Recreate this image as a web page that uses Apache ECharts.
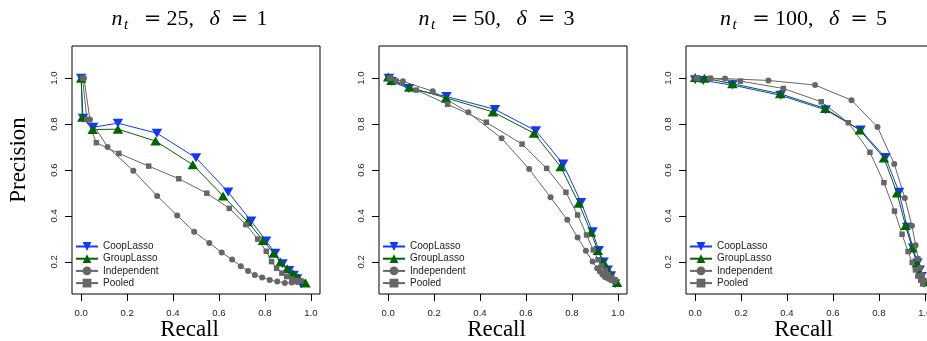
<!DOCTYPE html>
<html>
<head>
<meta charset="utf-8">
<script src="https://cdn.jsdelivr.net/npm/echarts@6/dist/echarts.min.js"></script>
<style>
  html, body { margin: 0; padding: 0; background: #fff; overflow: hidden; }
  #chart { width: 927px; height: 341px; }
</style>
</head>
<body>
<div id="chart"></div>
<script>
// Panel settings (n_t, delta)
const panelN = [25, 50, 100];
const panelDelta = [1, 3, 5];
const methods = ['CoopLasso', 'GroupLasso', 'Independent', 'Pooled'];
const xTicks = [0, 0.2, 0.4, 0.6, 0.8, 1.0];
const yTicks = [0.2, 0.4, 0.6, 0.8, 1.0];

// n_t = 25, delta = 1
const coop25R = [0.00, 0.008, 0.052, 0.16, 0.33, 0.50, 0.64, 0.74, 0.805, 0.845, 0.877, 0.905, 0.925, 0.94, 0.958];
const coop25P = [1.00, 0.825, 0.786, 0.804, 0.760, 0.653, 0.504, 0.378, 0.291, 0.238, 0.192, 0.162, 0.142, 0.126, 0.104];
const group25R = [0.00, 0.005, 0.05, 0.16, 0.324, 0.486, 0.618, 0.725, 0.792, 0.838, 0.868, 0.897, 0.922, 0.945, 0.977];
const group25P = [1.00, 0.83, 0.776, 0.778, 0.726, 0.623, 0.487, 0.375, 0.293, 0.238, 0.199, 0.17, 0.148, 0.131, 0.108];
const indep25R = [0.012, 0.038, 0.115, 0.227, 0.331, 0.418, 0.492, 0.558, 0.612, 0.657, 0.695, 0.727, 0.756, 0.788, 0.821, 0.854, 0.887, 0.917, 0.94];
const indep25P = [1.00, 0.82, 0.70, 0.597, 0.487, 0.402, 0.331, 0.282, 0.241, 0.21, 0.181, 0.16, 0.143, 0.132, 0.121, 0.114, 0.108, 0.11, 0.112];
const pool25R = [0.006, 0.025, 0.066, 0.164, 0.294, 0.425, 0.547, 0.645, 0.718, 0.769, 0.806, 0.829, 0.851, 0.874, 0.895, 0.917, 0.938, 0.957];
const pool25P = [1.00, 0.82, 0.719, 0.672, 0.617, 0.562, 0.499, 0.433, 0.362, 0.299, 0.246, 0.201, 0.172, 0.151, 0.136, 0.125, 0.119, 0.117];

// n_t = 50, delta = 3
const coop50R = [0.003, 0.016, 0.09, 0.254, 0.465, 0.643, 0.762, 0.84, 0.89, 0.917, 0.938, 0.956, 0.97, 0.988];
const coop50P = [1.00, 0.985, 0.955, 0.92, 0.864, 0.771, 0.626, 0.459, 0.331, 0.249, 0.199, 0.164, 0.139, 0.105];
const group50R = [0.0, 0.014, 0.092, 0.252, 0.456, 0.635, 0.751, 0.83, 0.883, 0.913, 0.936, 0.955, 0.972, 0.997];
const group50P = [1.005, 0.99, 0.96, 0.914, 0.853, 0.76, 0.614, 0.455, 0.329, 0.249, 0.201, 0.168, 0.139, 0.11];
const indep50R = [0.013, 0.064, 0.194, 0.349, 0.494, 0.614, 0.707, 0.78, 0.825, 0.861, 0.89, 0.91, 0.922, 0.933, 0.944, 0.957, 0.971, 0.986];
const indep50P = [1.00, 0.986, 0.943, 0.851, 0.738, 0.604, 0.481, 0.383, 0.306, 0.248, 0.201, 0.172, 0.158, 0.145, 0.134, 0.127, 0.12, 0.115];
const pool50R = [0.007, 0.035, 0.122, 0.259, 0.427, 0.583, 0.69, 0.774, 0.825, 0.864, 0.893, 0.914, 0.93, 0.945, 0.958, 0.974, 0.988];
const pool50P = [1.00, 0.987, 0.948, 0.886, 0.808, 0.713, 0.607, 0.503, 0.404, 0.317, 0.252, 0.209, 0.182, 0.162, 0.145, 0.132, 0.122];

// n_t = 100, delta = 5
const coop100R = [0.0, 0.035, 0.162, 0.372, 0.568, 0.72, 0.829, 0.888, 0.923, 0.949, 0.968, 0.978, 0.986, 0.996];
const coop100P = [0.993, 0.99, 0.97, 0.925, 0.862, 0.774, 0.654, 0.503, 0.351, 0.26, 0.195, 0.165, 0.136, 0.107];
const group100R = [0.0, 0.04, 0.162, 0.37, 0.566, 0.717, 0.822, 0.879, 0.916, 0.945, 0.965, 0.979, 1.0];
const group100P = [1.003, 1.0, 0.976, 0.932, 0.868, 0.774, 0.652, 0.5, 0.358, 0.26, 0.195, 0.153, 0.112];
const indep100R = [0.005, 0.067, 0.13, 0.319, 0.522, 0.681, 0.794, 0.867, 0.913, 0.944, 0.96, 0.971, 0.978, 0.988, 0.997];
const indep100P = [1.0, 0.999, 0.998, 0.99, 0.97, 0.904, 0.787, 0.626, 0.478, 0.357, 0.272, 0.213, 0.173, 0.143, 0.12];
const pool100R = [0.01, 0.065, 0.197, 0.384, 0.549, 0.667, 0.761, 0.822, 0.868, 0.901, 0.927, 0.945, 0.959, 0.97, 0.982, 0.991];
const pool100P = [1.0, 0.999, 0.987, 0.955, 0.897, 0.806, 0.677, 0.545, 0.421, 0.32, 0.245, 0.197, 0.165, 0.138, 0.12, 0.107];

const panelData = [
  [[coop25R, coop25P], [group25R, group25P], [indep25R, indep25P], [pool25R, pool25P]],
  [[coop50R, coop50P], [group50R, group50P], [indep50R, indep50P], [pool50R, pool50P]],
  [[coop100R, coop100P], [group100R, group100P], [indep100R, indep100P], [pool100R, pool100P]],
];

// Look of each method
const methodStyle = {
  CoopLasso:   { color: '#1238ff', symbol: 'path://M0,0 L10,0 L5,8.66 Z', size: [10.5, 9] },
  GroupLasso:  { color: '#006400', symbol: 'path://M5,0 L10,8.66 L0,8.66 Z', size: [10.5, 9] },
  Independent: { color: '#666666', symbol: 'circle', size: 6 },
  Pooled:      { color: '#666666', symbol: 'rect', size: 5.5 },
};

const gridLeft = [72, 379, 686];
const gridTop = 46;
const gridSize = 248;
const sans = 'Liberation Sans, Arial, sans-serif';
const serif = 'Liberation Serif, Times New Roman, serif';

// measure text to lay out the math-style titles
const ctx = document.createElement('canvas').getContext('2d');
function textWidth(str, font) {
  ctx.font = font;
  return ctx.measureText(str).width;
}

function titlePieces(cx, n, d) {
  const big = '22px ' + serif;
  const bigIt = 'italic 22px ' + serif;
  const eq = '21px DejaVu Serif, serif';
  const sub = 'italic 15px ' + serif;
  const numStr = n + ',';
  const numLeft = 55;
  const deltaLeft = numLeft + textWidth(numStr, big) + 15.5;
  const total = deltaLeft + 47 + textWidth(String(d), big);
  const x0 = cx - total / 2;
  const yMid = 19.5;
  const t = (text, x, font, align, y) => ({
    type: 'text', x: x, y: y,
    style: { text: text, font: font, fill: '#000', align: align, verticalAlign: 'middle' },
  });
  return [
    t('n', x0, bigIt, 'left', yMid),
    t('t', x0 + 12.5, sub, 'left', yMid + 5.5),
    t('=', x0 + 41, eq, 'center', yMid),
    t(numStr, x0 + numLeft, big, 'left', yMid),
    t('δ', x0 + deltaLeft, bigIt, 'left', yMid),
    t('=', x0 + deltaLeft + 30, eq, 'center', yMid),
    t(String(d), x0 + deltaLeft + 47, big, 'left', yMid),
  ];
}

const chart = echarts.init(document.getElementById('chart'));

const grids = [], xAxes = [], yAxes = [], legends = [], series = [], graphics = [];

gridLeft.forEach((left, i) => {
  grids.push({
    left: left, top: gridTop, width: gridSize, height: gridSize,
    outerBoundsMode: 'none', containLabel: false,
    show: true, borderColor: '#000', borderWidth: 1, backgroundColor: 'transparent',
  });
  xAxes.push({
    type: 'value', gridIndex: i, min: -0.04, max: 1.04,
    axisLine: { show: false, onZero: false },
    splitLine: { show: false },
    axisTick: { show: true, length: 7, customValues: xTicks, lineStyle: { color: '#000' } },
    axisLabel: {
      customValues: xTicks, margin: 14, fontSize: 9.6, color: '#222', fontFamily: sans,
      formatter: v => v.toFixed(1),
    },
  });
  yAxes.push({
    type: 'value', gridIndex: i, min: 0.06, max: 1.14,
    axisLine: { show: false, onZero: false },
    splitLine: { show: false },
    axisTick: { show: true, length: 7, customValues: yTicks, lineStyle: { color: '#000' } },
    axisLabel: {
      customValues: yTicks, margin: 13, fontSize: 9.6, color: '#222', fontFamily: sans, rotate: 90,
      formatter: v => v.toFixed(1),
    },
  });
  legends.push({
    orient: 'vertical', left: left + 3, top: 241.5, padding: 0,
    itemWidth: 22, itemHeight: 11, itemGap: 2.2, selectedMode: false,
    textStyle: { fontSize: 10, fontFamily: sans, color: '#222' },
    data: methods,
  });

  methods.forEach((m, k) => {
    const [rs, ps] = panelData[i][k];
    const st = methodStyle[m];
    series.push({
      name: m, type: 'line', xAxisIndex: i, yAxisIndex: i,
      data: rs.map((r, j) => [r, ps[j]]),
      symbol: st.symbol, symbolSize: st.size,
      lineStyle: { color: st.color, width: 1 },
      itemStyle: { color: st.color, borderWidth: 0 },
      emphasis: { disabled: true },
    });
  });

  // title and x label, centred as in the original figure
  const cx = left + 117.5;
  graphics.push(...titlePieces(cx, panelN[i], panelDelta[i]));
  graphics.push({
    type: 'text', x: cx, y: 330,
    style: { text: 'Recall', font: '23px ' + serif, fill: '#000', align: 'center', verticalAlign: 'middle' },
  });
});

graphics.push({
  type: 'text', x: 18.5, y: 160, rotation: Math.PI / 2,
  style: { text: 'Precision', font: '23px ' + serif, fill: '#000', align: 'center', verticalAlign: 'middle' },
});

chart.setOption({
  animation: false,
  backgroundColor: '#fff',
  grid: grids,
  xAxis: xAxes,
  yAxis: yAxes,
  legend: legends,
  series: series,
  graphic: graphics,
});
</script>
</body>
</html>
